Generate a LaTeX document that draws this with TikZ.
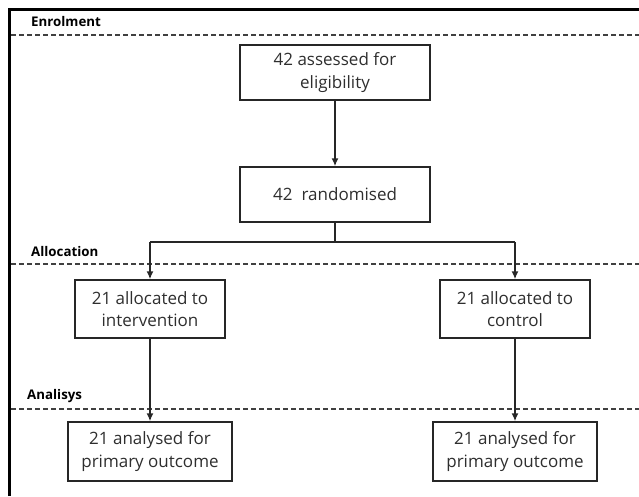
\documentclass[tikz,border=0pt]{standalone}
\usepackage{fontspec}
\setmainfont{Open Sans}
\usetikzlibrary{arrows.meta}
\begin{document}
\begin{tikzpicture}[x=1pt,y=-1pt,
  box/.style={draw=black!85, line width=1.4pt, minimum width=#1, align=center, inner sep=0pt, text=black!82,
     font=\fontsize{17}{22.5}\selectfont},
  phase/.style={anchor=west, font=\bfseries\fontsize{13.3}{15}\selectfont, inner sep=0pt},
  sep/.style={draw=black!75, line width=1.2pt, dash pattern=on 5pt off 3pt},
  arr/.style={draw=black!85, line width=1.5pt, -{Latex[length=8pt,width=7pt]}},
  ln/.style={draw=black!85, line width=1.5pt}]
\useasboundingbox (0,0) rectangle (639,496);
% frame
\draw[line width=2.6pt] (9.5,496) -- (9.5,9.5) -- (639,9.5);
% phase labels and dashed separators
\node[phase] (lenr) at (31,22) {Enrolment};
\node[phase] (lall) at (31,252) {Allocation};
\node[phase] (lana) at (27,396) {Analisys};
\draw[sep] (11,35) -- (639,35);
\draw[sep] (11,264) -- (639,264);
\draw[sep] (11,409) -- (639,409);
% boxes
\node[box=190pt, minimum height=55pt] (b1) at (335,72.5) {42 assessed for\\eligibility};
\node[box=190pt, minimum height=55pt] (b2) at (335,194.5) {42\; randomised};
\node[box=150pt, minimum height=58pt] (b3) at (150,309) {21 allocated to\\intervention};
\node[box=150pt, minimum height=58pt] (b4) at (515,309) {21 allocated to\\control};
\node[box=164pt, minimum height=59pt] (b5) at (150,451.5) {21 analysed for\\primary outcome};
\node[box=164pt, minimum height=59pt] (b6) at (515,451.5) {21 analysed for\\primary outcome};
% connectors
\coordinate (jl) at (150,242);
\coordinate (jr) at (515,242);
\draw[arr] (b1.south) -- (b2.north);
\draw[ln] (b2.south) -- (b2.south |- jl);
\draw[ln] (jl) -- (jr);
\draw[arr] (jl) -- (b3.north);
\draw[arr] (jr) -- (b4.north);
\draw[arr] (b3.south) -- (b5.north);
\draw[arr] (b4.south) -- (b6.north);
\end{tikzpicture}
\end{document}
